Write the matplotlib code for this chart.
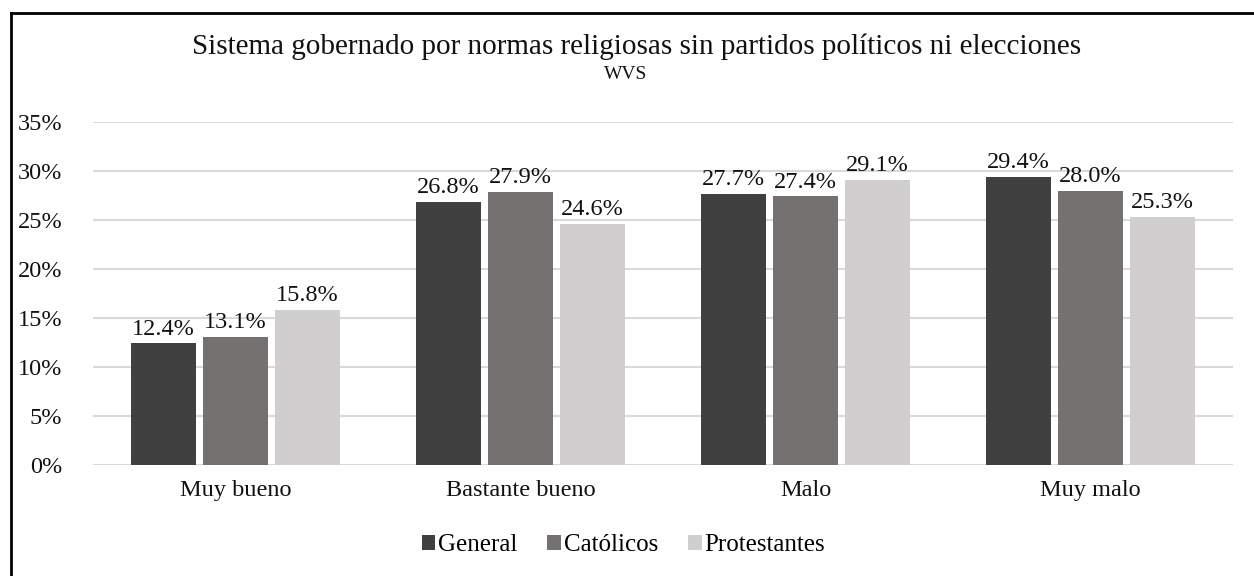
import numpy as np
import matplotlib.pyplot as plt
from matplotlib.lines import Line2D

plt.rcParams['font.family'] = ['Liberation Serif', 'DejaVu Serif']

categorias = ['Muy bueno', 'Bastante bueno', 'Malo', 'Muy malo']
series = ['General', 'Católicos', 'Protestantes']
general = [12.4, 26.8, 27.7, 29.4]
catolicos = [13.1, 27.9, 27.4, 28.0]
protestantes = [15.8, 24.6, 29.1, 25.3]
colores = ['#404040', '#767171', '#D0CECE']

fig = plt.figure(figsize=(12.54, 5.76), dpi=100)
ax = fig.add_axes([0.0742, 0.1927, 0.9091, 0.5955])

x = np.arange(len(categorias))
w = 0.23
paso = 0.253
for i, (vals, nombre) in enumerate(zip([general, catolicos, protestantes], series)):
    pos = x + (i - 1) * paso
    bars = ax.bar(pos, vals, width=w, color=colores[i], label=nombre, zorder=3)
    for b, v in zip(bars, vals):
        ax.text(b.get_x() + b.get_width() / 2, v + 0.4, f'{v:.1f}%',
                ha='center', va='bottom', fontsize=17.5, color='#111111', zorder=4)

ax.set_xlim(-0.5, 3.5)
ax.set_ylim(0, 35)
ax.set_yticks(np.arange(0, 36, 5))
ax.set_yticklabels([f'{t}%' for t in range(0, 36, 5)])
ax.set_xticks(x)
ax.set_xticklabels(categorias)
ax.tick_params(axis='both', length=0, labelsize=17.5, colors='#111111')
ax.tick_params(axis='y', pad=22)
ax.tick_params(axis='x', pad=11)
ax.grid(axis='y', color='#D9D9D9', linewidth=1.5, zorder=0)
for s in ax.spines.values():
    s.set_visible(False)

fig.text(0.5076, 0.918, 'Sistema gobernado por normas religiosas sin partidos políticos ni elecciones',
         ha='center', va='center', fontsize=21, color='#111111')
fig.text(0.4992, 0.87, 'WVS', ha='center', va='center', fontsize=14, color='#111111')

ax.legend(loc='center', bbox_to_anchor=(0.497, 0.054), bbox_transform=fig.transFigure,
          ncol=3, frameon=False, fontsize=18, handlelength=0.55, handleheight=0.55,
          handletextpad=0.1, columnspacing=1.2)

fig.add_artist(Line2D([11 / 1254, 11 / 1254], [0, 1 - 13 / 576], color='black', linewidth=2))
fig.add_artist(Line2D([11 / 1254, 1], [1 - 13 / 576, 1 - 13 / 576], color='black', linewidth=2))

fig.savefig('out.png', dpi=100)
